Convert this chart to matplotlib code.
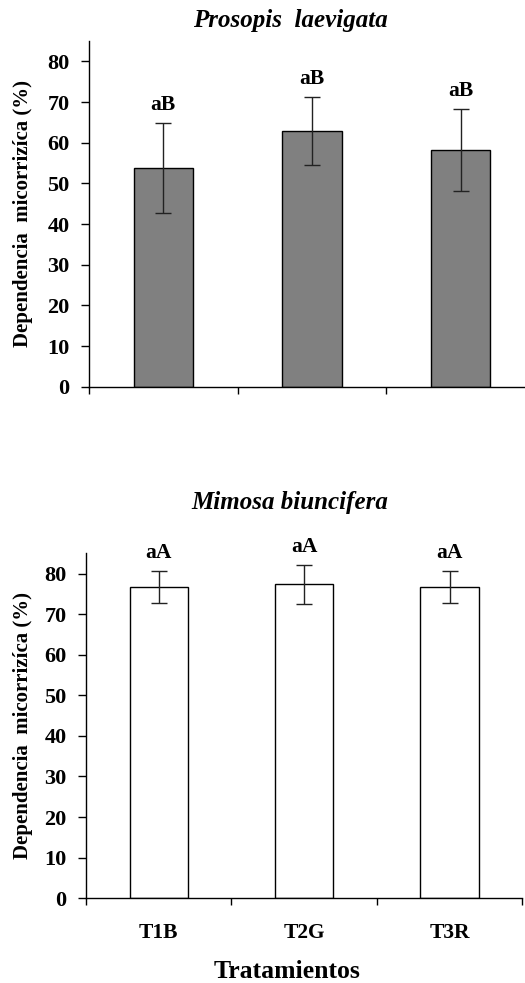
import matplotlib
matplotlib.use("Agg")
import matplotlib.pyplot as plt

plt.rcParams['font.family'] = ['Liberation Serif', 'DejaVu Serif']

treatments = ["T1B", "T2G", "T3R"]

prosopis_mean = [53.8, 62.9, 58.3]
prosopis_err = [11.1, 8.4, 10.1]
prosopis_letters = ["aB", "aB", "aB"]

mimosa_mean = [76.7, 77.4, 76.7]
mimosa_err = [4.0, 4.8, 3.9]
mimosa_letters = ["aA", "aA", "aA"]

yticks = [0, 10, 20, 30, 40, 50, 60, 70, 80]
ylabel = "Dependencia  micorrizíca (%)"

W, H = 525, 983
fig = plt.figure(figsize=(W / 100, H / 100), dpi=100)
ax1 = fig.add_axes([0.1695, 0.6066, 0.8495, 0.3517])
ax2 = fig.add_axes([0.1638, 0.0862, 0.8309, 0.3510])


def draw(ax, means, errs, letters, color, title, title_y, show_xlabels):
    x = list(range(1, len(means) + 1))
    ax.bar(x, means, width=0.40, color=color, edgecolor='black', linewidth=1.0, zorder=2)
    ax.errorbar(x, means, yerr=errs, fmt='none', ecolor='#222222',
                elinewidth=1.0, capsize=5.5, capthick=1.0, zorder=3)
    for xi, m, e, lab in zip(x, means, errs, letters):
        ax.text(xi, m + e + 4.4, lab, ha='center', va='center',
                fontsize=15.5, fontweight='bold')
    ax.set_xlim(0.5, 3.5)
    ax.set_ylim(0, 85)
    ax.set_yticks(yticks)
    ax.set_xticks([0.5, 1.5, 2.5, 3.5])
    ax.set_xticklabels([])
    for side in ('top', 'right'):
        ax.spines[side].set_visible(False)
    for side in ('left', 'bottom'):
        ax.spines[side].set_linewidth(1.0)
    ax.tick_params(axis='y', direction='out', length=6, width=1.0,
                   labelsize=16, pad=8)
    ax.tick_params(axis='x', direction='out', length=5, width=1.0)
    for t in ax.get_yticklabels():
        t.set_fontweight('bold')
    ax.set_ylabel(ylabel, fontsize=15, fontweight='bold')
    bb = ax.get_position()
    ax.yaxis.set_label_coords((33 / W - bb.x0) / bb.width, 0.5)
    fig.text(290 / W, 1 - title_y / H, title, ha='center', va='center',
             fontsize=18, fontweight='bold', style='italic')
    if show_xlabels:
        for xi, lab in zip(x, treatments):
            ax.annotate(lab, xy=(xi, 0), xycoords=('data', 'axes fraction'),
                        xytext=(0, -35), textcoords='offset pixels',
                        ha='center', va='center', fontsize=15.5, fontweight='bold')


draw(ax1, prosopis_mean, prosopis_err, prosopis_letters, '#808080',
     "Prosopis  laevigata", 21, False)
draw(ax2, mimosa_mean, mimosa_err, mimosa_letters, 'white',
     "Mimosa biuncifera", 503, True)

fig.text(287 / W, 1 - 971.7 / H, "Tratamientos", ha='center', va='center',
         fontsize=18.5, fontweight='bold')

fig.savefig("out.png", dpi=100)
